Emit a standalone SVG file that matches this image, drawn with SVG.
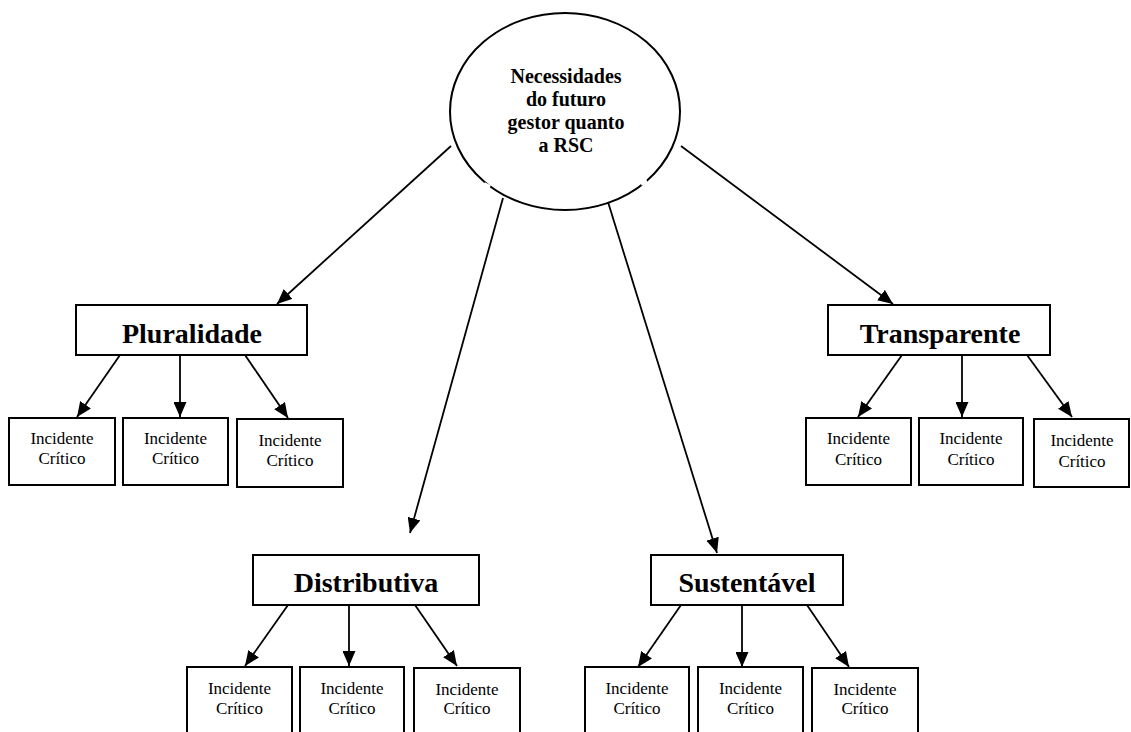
<svg xmlns="http://www.w3.org/2000/svg" width="1131" height="732" viewBox="0 0 1131 732">
<style>
.box{fill:#fff;stroke:#000;stroke-width:2}
.ell{fill:#fff;stroke:#000;stroke-width:2}
.lbl{font-family:"Liberation Serif","Times New Roman",serif;font-weight:bold;font-size:28px;text-anchor:middle;fill:#000}
.root{font-family:"Liberation Serif","Times New Roman",serif;font-weight:bold;font-size:20px;text-anchor:middle;fill:#000}
.inc{font-family:"Liberation Serif","Times New Roman",serif;font-size:17px;text-anchor:middle;fill:#000}
.con{stroke:#000;stroke-width:1.8;fill:none;marker-end:url(#arr)}
</style>
<defs>
<marker id="arr" markerUnits="userSpaceOnUse" viewBox="0 0 15 13" refX="15" refY="6.5" markerWidth="15" markerHeight="13" orient="auto">
<path d="M0,0 L15,6.5 L0,13 Z" fill="#000"/>
</marker>
</defs>
<rect width="1131" height="732" fill="#fff"/>

<g id="root">
<ellipse class="ell" cx="565" cy="111.5" rx="115" ry="98.5"/>
<line x1="484" y1="184" x2="490" y2="187" stroke="#fff" stroke-width="4"/>
<line x1="641" y1="184" x2="647" y2="181" stroke="#fff" stroke-width="4"/>
<text class="root" x="566" y="83">Necessidades</text>
<text class="root" x="566" y="106">do futuro</text>
<text class="root" x="566" y="129">gestor quanto</text>
<text class="root" x="566" y="152">a RSC</text>
</g>

<g id="connectors">
<line class="con" x1="451" y1="146" x2="277" y2="304"/>
<line class="con" x1="503" y1="198" x2="410" y2="533"/>
<line class="con" x1="608" y1="202" x2="717" y2="553"/>
<line class="con" x1="681" y1="146" x2="893" y2="304"/>

<line class="con" x1="120" y1="355" x2="77" y2="417"/>
<line class="con" x1="180" y1="355" x2="180" y2="417"/>
<line class="con" x1="245" y1="355" x2="288" y2="418"/>

<line class="con" x1="902" y1="355" x2="858" y2="417"/>
<line class="con" x1="962" y1="355" x2="962" y2="417"/>
<line class="con" x1="1027" y1="355" x2="1072" y2="417"/>

<line class="con" x1="288" y1="605" x2="245" y2="666"/>
<line class="con" x1="349" y1="605" x2="349" y2="666"/>
<line class="con" x1="415" y1="605" x2="457" y2="666"/>

<line class="con" x1="681" y1="605" x2="638" y2="667"/>
<line class="con" x1="742" y1="605" x2="742" y2="667"/>
<line class="con" x1="807" y1="605" x2="849" y2="667"/>
</g>

<g id="pluralidade">
<rect class="box" x="76" y="305" width="231" height="50"/>
<text class="lbl" x="192" y="343">Pluralidade</text>
</g>
<g id="transparente">
<rect class="box" x="828" y="305" width="222" height="50"/>
<text class="lbl" x="940" y="343">Transparente</text>
</g>
<g id="distributiva">
<rect class="box" x="253" y="555" width="226" height="50"/>
<text class="lbl" x="366" y="592">Distributiva</text>
</g>
<g id="sustentavel">
<rect class="box" x="651" y="555" width="192" height="50"/>
<text class="lbl" x="747" y="592">Sustentável</text>
</g>

<g id="p1"><rect class="box" x="9" y="418" width="106" height="67"/><text class="inc" x="62" y="444">Incidente</text><text class="inc" x="62" y="464">Crítico</text></g>
<g id="p2"><rect class="box" x="123" y="418" width="105" height="67"/><text class="inc" x="175.5" y="444">Incidente</text><text class="inc" x="175.5" y="464">Crítico</text></g>
<g id="p3"><rect class="box" x="237" y="419" width="106" height="68"/><text class="inc" x="290" y="446">Incidente</text><text class="inc" x="290" y="466">Crítico</text></g>

<g id="t1"><rect class="box" x="806" y="418" width="105" height="67"/><text class="inc" x="858.5" y="444">Incidente</text><text class="inc" x="858.5" y="465">Crítico</text></g>
<g id="t2"><rect class="box" x="919" y="418" width="104" height="67"/><text class="inc" x="971" y="444">Incidente</text><text class="inc" x="971" y="465">Crítico</text></g>
<g id="t3"><rect class="box" x="1034" y="419" width="95" height="68"/><text class="inc" x="1082" y="446">Incidente</text><text class="inc" x="1082" y="467">Crítico</text></g>

<g id="d1"><rect class="box" x="187" y="667" width="105" height="75"/><text class="inc" x="239.5" y="694">Incidente</text><text class="inc" x="239.5" y="714">Crítico</text></g>
<g id="d2"><rect class="box" x="300" y="667" width="104" height="75"/><text class="inc" x="352" y="694">Incidente</text><text class="inc" x="352" y="714">Crítico</text></g>
<g id="d3"><rect class="box" x="414" y="668" width="106" height="75"/><text class="inc" x="467" y="695">Incidente</text><text class="inc" x="467" y="714">Crítico</text></g>

<g id="s1"><rect class="box" x="585" y="667" width="104" height="75"/><text class="inc" x="637" y="694">Incidente</text><text class="inc" x="637" y="714">Crítico</text></g>
<g id="s2"><rect class="box" x="698" y="667" width="105" height="75"/><text class="inc" x="750.5" y="694">Incidente</text><text class="inc" x="750.5" y="714">Crítico</text></g>
<g id="s3"><rect class="box" x="812" y="668" width="106" height="75"/><text class="inc" x="865" y="695">Incidente</text><text class="inc" x="865" y="714">Crítico</text></g>
</svg>
